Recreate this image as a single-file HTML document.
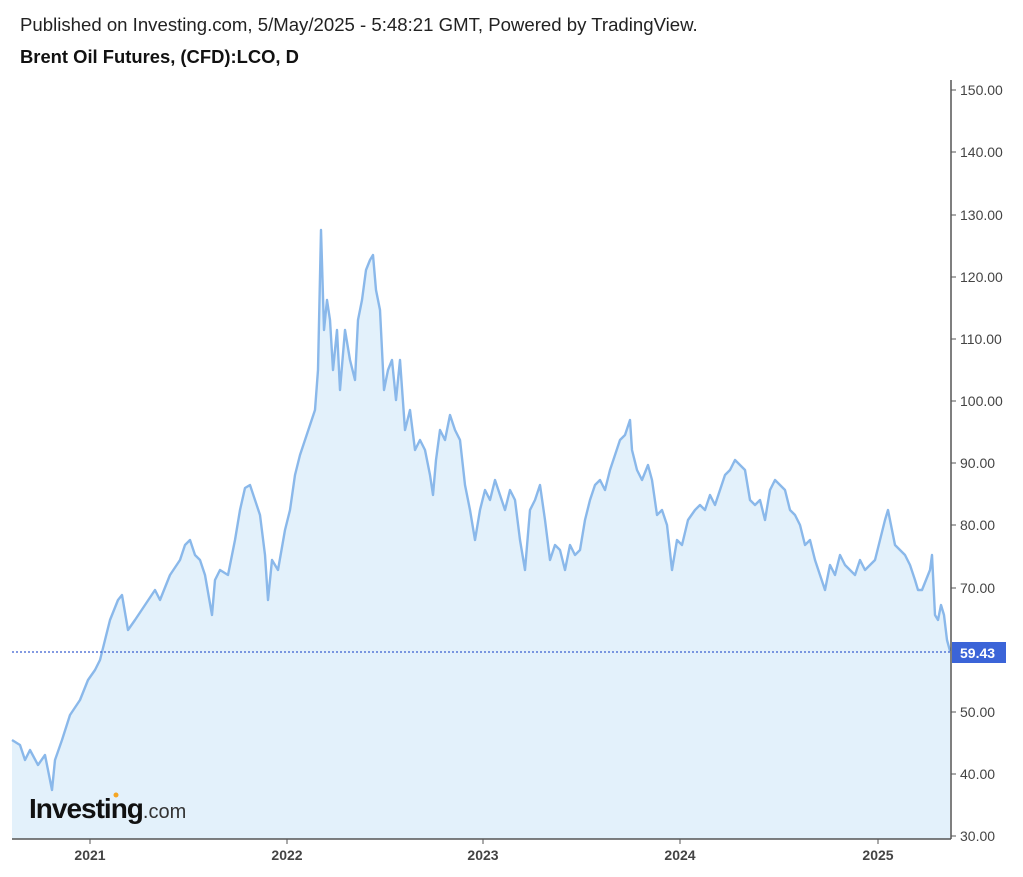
<!DOCTYPE html>
<html><head><meta charset="utf-8"><style>
body{margin:0;background:#fff;width:1023px;height:872px;overflow:hidden;font-family:"Liberation Sans",Arial,sans-serif}
</style></head><body>
<svg width="1023" height="872" xmlns="http://www.w3.org/2000/svg" font-family="Liberation Sans, Arial, sans-serif">
<text x="20" y="31" font-size="18.6" fill="#222">Published on Investing.com, 5/May/2025 - 5:48:21 GMT, Powered by TradingView.</text>
<text x="20" y="63" font-size="18.4" font-weight="bold" fill="#111">Brent Oil Futures, (CFD):LCO, D</text>
<polygon fill="#e3f1fb" points="12,839 12,740 20,745 25,760 30,750 38,765 45,755 52,790 55,760 62,740 70,715 80,700 88,680 95,670 100,660 105,640 110,620 118,600 122,595 128,630 135,620 145,605 155,590 160,600 170,575 180,560 185,545 190,540 195,555 200,560 205,575 212,615 215,580 220,570 228,575 235,540 240,510 245,488 250,485 255,500 260,515 265,555 268,600 272,560 278,570 285,530 290,510 295,475 300,455 305,440 310,425 315,410 318,370 321,230 324,330 327,300 330,320 333,370 337,330 340,390 345,330 350,360 355,380 358,320 362,300 366,270 370,260 373,255 376,290 380,310 384,390 388,370 392,360 396,400 400,360 405,430 410,410 415,450 420,440 425,450 430,475 433,495 436,460 440,430 445,440 450,415 455,430 460,440 465,485 470,510 475,540 480,510 485,490 490,500 495,480 500,495 505,510 510,490 515,500 520,540 525,570 530,510 535,500 540,485 545,520 550,560 555,545 560,550 565,570 570,545 575,555 580,550 585,520 590,500 595,485 600,480 605,490 610,470 615,455 620,440 625,435 630,420 632,450 637,470 642,480 648,465 652,480 657,515 662,510 667,525 672,570 677,540 682,545 688,520 695,510 700,505 705,510 710,495 715,505 720,490 725,475 730,470 735,460 740,465 745,470 750,500 755,505 760,500 765,520 770,490 775,480 780,485 785,490 790,510 795,515 800,525 805,545 810,540 815,560 820,575 825,590 830,565 835,575 840,555 845,565 850,570 855,575 860,560 865,570 870,565 875,560 880,540 885,520 888,510 892,530 895,545 900,550 905,555 910,565 915,580 918,590 922,590 926,580 930,570 932,555 935,615 938,620 941,605 944,615 947,640 950,651 950,839"/>
<polyline fill="none" stroke="#8ab8ea" stroke-width="2.4" stroke-linejoin="round" points="12,740 20,745 25,760 30,750 38,765 45,755 52,790 55,760 62,740 70,715 80,700 88,680 95,670 100,660 105,640 110,620 118,600 122,595 128,630 135,620 145,605 155,590 160,600 170,575 180,560 185,545 190,540 195,555 200,560 205,575 212,615 215,580 220,570 228,575 235,540 240,510 245,488 250,485 255,500 260,515 265,555 268,600 272,560 278,570 285,530 290,510 295,475 300,455 305,440 310,425 315,410 318,370 321,230 324,330 327,300 330,320 333,370 337,330 340,390 345,330 350,360 355,380 358,320 362,300 366,270 370,260 373,255 376,290 380,310 384,390 388,370 392,360 396,400 400,360 405,430 410,410 415,450 420,440 425,450 430,475 433,495 436,460 440,430 445,440 450,415 455,430 460,440 465,485 470,510 475,540 480,510 485,490 490,500 495,480 500,495 505,510 510,490 515,500 520,540 525,570 530,510 535,500 540,485 545,520 550,560 555,545 560,550 565,570 570,545 575,555 580,550 585,520 590,500 595,485 600,480 605,490 610,470 615,455 620,440 625,435 630,420 632,450 637,470 642,480 648,465 652,480 657,515 662,510 667,525 672,570 677,540 682,545 688,520 695,510 700,505 705,510 710,495 715,505 720,490 725,475 730,470 735,460 740,465 745,470 750,500 755,505 760,500 765,520 770,490 775,480 780,485 785,490 790,510 795,515 800,525 805,545 810,540 815,560 820,575 825,590 830,565 835,575 840,555 845,565 850,570 855,575 860,560 865,570 870,565 875,560 880,540 885,520 888,510 892,530 895,545 900,550 905,555 910,565 915,580 918,590 922,590 926,580 930,570 932,555 935,615 938,620 941,605 944,615 947,640 950,651"/>
<line x1="12" y1="652" x2="951" y2="652" stroke="#3a5fd0" stroke-width="1.3" stroke-dasharray="2,2"/>
<line x1="951" y1="80" x2="951" y2="839" stroke="#555" stroke-width="1.5"/>
<line x1="12" y1="839" x2="951" y2="839" stroke="#555" stroke-width="1.5"/>
<g font-size="14" fill="#444" stroke="#555">
<line x1="951" y1="90" x2="956" y2="90"/><text x="960" y="95" stroke="none">150.00</text>
<line x1="951" y1="152" x2="956" y2="152"/><text x="960" y="157" stroke="none">140.00</text>
<line x1="951" y1="215" x2="956" y2="215"/><text x="960" y="220" stroke="none">130.00</text>
<line x1="951" y1="277" x2="956" y2="277"/><text x="960" y="282" stroke="none">120.00</text>
<line x1="951" y1="339" x2="956" y2="339"/><text x="960" y="344" stroke="none">110.00</text>
<line x1="951" y1="401" x2="956" y2="401"/><text x="960" y="406" stroke="none">100.00</text>
<line x1="951" y1="463" x2="956" y2="463"/><text x="960" y="468" stroke="none">90.00</text>
<line x1="951" y1="525" x2="956" y2="525"/><text x="960" y="530" stroke="none">80.00</text>
<line x1="951" y1="588" x2="956" y2="588"/><text x="960" y="593" stroke="none">70.00</text>
<line x1="951" y1="712" x2="956" y2="712"/><text x="960" y="717" stroke="none">50.00</text>
<line x1="951" y1="774" x2="956" y2="774"/><text x="960" y="779" stroke="none">40.00</text>
<line x1="951" y1="836" x2="956" y2="836"/><text x="960" y="841" stroke="none">30.00</text>
</g>
<rect x="952" y="642" width="54" height="21" fill="#3b64d8"/>
<text x="960" y="658" font-size="14" font-weight="bold" fill="#fff">59.43</text>
<g font-size="14" font-weight="bold" fill="#444" stroke="#555" text-anchor="middle">
<line x1="90" y1="839" x2="90" y2="844"/><text x="90" y="860" stroke="none">2021</text>
<line x1="287" y1="839" x2="287" y2="844"/><text x="287" y="860" stroke="none">2022</text>
<line x1="483" y1="839" x2="483" y2="844"/><text x="483" y="860" stroke="none">2023</text>
<line x1="680" y1="839" x2="680" y2="844"/><text x="680" y="860" stroke="none">2024</text>
<line x1="878" y1="839" x2="878" y2="844"/><text x="878" y="860" stroke="none">2025</text>
</g>
<text x="29" y="818" font-size="28" font-weight="bold" fill="#111" letter-spacing="-1">Investing<tspan font-size="20" font-weight="normal" fill="#333" letter-spacing="0">.com</tspan></text>
<circle cx="116" cy="795" r="2.5" fill="#f5a623"/>
</svg>
</body></html>
